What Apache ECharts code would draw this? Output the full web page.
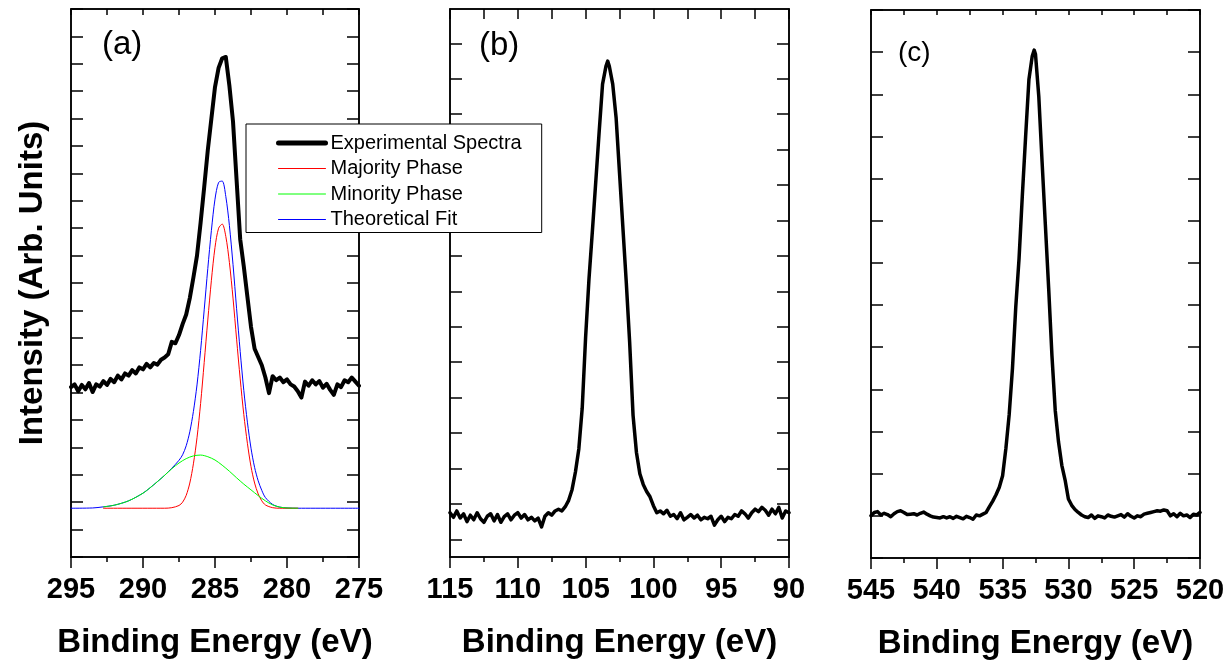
<!DOCTYPE html>
<html><head><meta charset="utf-8">
<script src="https://cdn.jsdelivr.net/npm/echarts@6/dist/echarts.min.js"></script>
<style>html,body{margin:0;padding:0;background:#fff}#c{width:1230px;height:665px}</style>
</head><body><div id="c"></div>
<script>
// ---------- DATA ----------
const legendNames = ['Experimental Spectra','Majority Phase','Minority Phase','Theoretical Fit'];
const panelLabels = ['(a)','(b)','(c)'];
const xTitle = 'Binding Energy (eV)';
const yTitle = 'Intensity (Arb. Units)';

// Panel (a) C 1s
const aExpE = [295,294.75,294.5,294.25,294,293.75,293.5,293.25,293,292.75,
292.5,292.25,292,291.75,291.5,291.25,291,290.75,290.5,290.25,
290,289.75,289.5,289.25,289,288.75,288.5,288.25,288,287.75,
287.5,287.25,287,286.75,286.5,286.25,286,285.75,285.5,285.25,
285,284.75,284.5,284.25,284,283.75,283.5,283.25,283,282.75,
282.5,282.25,282,281.75,281.5,281.25,281,280.75,280.5,280.25,
280,279.75,279.5,279.25,279,278.75,278.5,278.25,278,277.75,
277.5,277.25,277,276.75,276.5,276.25,276,275.75,275.5,275.25,275];
const aExpI = [6.20,6.30,6.05,6.28,6.12,6.35,6.02,6.30,6.22,6.42,
6.28,6.50,6.38,6.62,6.48,6.70,6.62,6.82,6.70,6.92,
6.85,7.05,6.92,7.08,7.02,7.20,7.28,7.40,7.85,7.80,
8.10,8.50,8.85,9.45,10.20,11.00,12.20,13.50,14.85,16.00,
17.15,17.85,18.20,18.25,17.20,15.90,13.75,11.60,10.60,9.50,
8.40,7.60,7.30,7.00,6.55,5.98,6.60,6.45,6.55,6.38,
6.48,6.30,6.22,6.05,5.82,6.40,6.25,6.45,6.30,6.42,
6.18,6.32,6.10,5.92,6.30,6.20,6.45,6.38,6.55,6.40,6.25];

const aMajE = [292.75,288.5,288,287.5,287.25,287,286.75,286.5,286.25,286,285.75,285.5,285.25,285,284.75,284.5,284.25,284,283.75,283.5,283.25,283,282.75,282.5,282.25,282,281.75,281.5,281,280.5,279.25];
const aMajI = [1.78,1.78,1.80,1.88,2.00,2.25,2.70,3.40,4.35,5.60,7.10,8.65,10.10,11.30,12.00,12.15,11.70,10.75,9.45,7.95,6.50,5.20,4.15,3.30,2.70,2.30,2.05,1.90,1.80,1.78,1.78];

const aMinE = [292.75,292,291,290,289.5,289,288.5,288,287.5,287,286.5,286,285.5,285,284.5,284,283.5,283,282.5,282,281.5,281,280.5,280,279.25];
const aMinI = [1.83,1.89,2.05,2.33,2.53,2.75,2.98,3.22,3.43,3.59,3.69,3.72,3.66,3.54,3.35,3.13,2.89,2.66,2.45,2.24,2.05,1.90,1.82,1.79,1.78];

const aFitE = [295,293.5,292.75,292,291,290,289.5,289,288.5,288,287.5,287.25,287,286.75,286.5,286.25,286,285.75,285.5,285.25,285,284.75,284.5,284.25,284,283.75,283.5,283.25,283,282.75,282.5,282.25,282,281.75,281.5,281,280.5,280,279.25,275];
const aFitI = [1.78,1.79,1.83,1.89,2.05,2.33,2.53,2.75,2.98,3.24,3.53,3.73,4.06,4.57,5.31,6.28,7.54,9.02,10.53,11.92,13.06,13.67,13.72,13.16,12.10,10.68,9.06,7.50,6.08,4.92,3.97,3.27,2.78,2.43,2.17,1.92,1.82,1.79,1.78,1.78];

// Panel (b) Si 2p
const bExpE = [115,114.75,114.5,114.25,114,113.75,113.5,113.25,113,112.75,
112.5,112.25,112,111.75,111.5,111.25,111,110.75,110.5,110.25,
110,109.75,109.5,109.25,109,108.75,108.5,108.25,108,107.75,
107.5,107.25,107,106.75,106.5,106.25,106,105.75,105.5,105.25,
105,104.75,104.5,104.25,104,103.75,103.5,
103.37,
103.25,103,102.75,102.5,102.25,102,101.75,101.5,101.25,101,
100.75,100.5,100.25,100,99.75,99.5,99.25,99,98.75,98.5,
98.25,98,97.75,97.5,97.25,97,96.75,96.5,96.25,96,
95.75,95.5,95.25,95,94.75,94.5,94.25,94,93.75,93.5,
93.25,93,92.75,92.5,92.25,92,91.75,91.5,91.25,91,
90.75,90.5,90.25,90];
const bExpI = [1.25,1.12,1.30,1.10,1.22,1.00,1.18,1.05,1.25,1.08,
0.98,1.15,1.22,1.02,1.20,0.98,1.14,1.22,1.05,1.18,
1.25,1.10,1.20,1.05,1.12,1.02,1.10,0.85,1.15,1.25,
1.18,1.30,1.35,1.30,1.42,1.60,1.90,2.40,3.05,4.20,
6.20,7.85,9.20,10.60,12.00,13.35,13.85,
14.00,
13.85,13.35,12.40,10.85,9.30,7.75,6.05,4.00,2.95,2.35,
2.05,1.85,1.70,1.45,1.25,1.30,1.22,1.32,1.15,1.20,
1.08,1.25,1.05,1.12,1.20,1.10,1.18,1.05,1.12,1.08,
1.15,0.90,1.05,1.15,1.00,1.12,1.08,1.20,1.15,1.30,
1.22,1.10,1.25,1.35,1.28,1.40,1.32,1.18,1.35,1.22,
1.40,1.10,1.30,1.25];
const bTickVals = [0.5,1.5,2.5,3.5,4.5,5.5,6.5,7.5,8.5,9.5,10.5,11.5,12.5,13.5,14.5];

// Panel (c) O 1s
const cExpE = [545,544.75,544.5,544.25,544,543.75,543.5,543.25,543,542.75,
542.5,542.25,542,541.75,541.5,541.25,541,540.75,540.5,540.25,
540,539.75,539.5,539.25,539,538.75,538.5,538.25,538,537.75,
537.5,537.25,537,536.75,536.5,536.25,536,535.75,535.5,535.25,
535,534.75,534.5,534.25,534,533.75,533.5,533.25,533,532.75,
532.6,
532.5,532.25,532,531.75,531.5,531.25,531,530.75,530.5,530.25,
530,529.75,529.5,529.25,529,528.75,528.5,528.25,528,527.75,
527.5,527.25,527,526.75,526.5,526.25,526,525.75,525.5,525.25,
525,524.75,524.5,524.25,524,523.75,523.5,523.25,523,522.75,
522.5,522.25,522,521.75,521.5,521.25,521,520.75,520.5,520.25,520];
const cExpI = [1.00,1.08,1.10,1.02,1.06,1.03,0.98,1.05,1.10,1.12,
1.08,1.03,1.04,1.05,1.02,1.06,1.09,1.04,1.00,0.97,
0.96,0.95,0.98,0.95,0.98,0.94,0.99,0.96,0.93,0.99,
0.96,0.92,1.02,1.00,1.04,1.08,1.22,1.35,1.50,1.68,
1.95,2.60,3.40,4.50,5.95,7.10,8.60,10.00,11.35,11.90,
12.05,
11.95,10.95,9.40,7.90,6.40,4.80,3.50,2.75,2.20,1.85,
1.40,1.25,1.15,1.08,1.02,0.98,0.96,1.02,0.94,1.00,
0.98,0.95,1.02,0.99,0.97,1.00,1.03,0.97,1.05,0.99,
0.95,1.00,0.98,1.04,1.06,1.08,1.10,1.12,1.11,1.14,
1.12,1.00,1.05,0.98,1.06,1.00,1.02,0.96,1.04,1.02,1.08];

// ---------- CHART ----------
const FONT = "'Liberation Sans', Arial, Helvetica, sans-serif";
const zip = (xs, ys) => xs.map((x, i) => [x, ys[i]]);
const chart = echarts.init(document.getElementById('c'), null, {renderer: 'canvas'});

const grids = [
  {left: 71, top: 9, width: 288, height: 548},
  {left: 450, top: 9, width: 339, height: 548},
  {left: 871, top: 10, width: 329, height: 548}
];
const xRanges = [[275, 295], [90, 115], [520, 545]];
const topTickLen = [6, 10, 5];
const yCfg = [
  {max: 20, interval: 1},
  {max: 15.47, custom: bTickVals},
  {max: 13, interval: 1}
];

const lineBlack = {color: '#000', width: 1.5};
const xAxes = [], yAxes = [];
grids.forEach((g, i) => {
  xAxes.push({
    type: 'value', gridIndex: i, position: 'bottom', inverse: true,
    min: xRanges[i][0], max: xRanges[i][1], interval: 5,
    axisLine: {show: true, onZero: false, lineStyle: lineBlack},
    axisTick: {show: true, inside: false, length: 11, lineStyle: lineBlack},
    minorTick: {show: true, splitNumber: 2, length: 5, lineStyle: lineBlack},
    splitLine: {show: false}, minorSplitLine: {show: false},
    axisLabel: {show: true, showMinLabel: true, showMaxLabel: true, hideOverlap: false,
      fontFamily: FONT, fontWeight: 'bold', fontSize: 29, color: '#000', margin: 18},
    name: xTitle, nameLocation: 'middle', nameGap: 69,
    nameTextStyle: {fontFamily: FONT, fontWeight: 'bold', fontSize: 33, color: '#000'}
  });
  xAxes.push({
    type: 'value', gridIndex: i, position: 'top', inverse: true,
    min: xRanges[i][0], max: xRanges[i][1], interval: 2.5,
    axisLine: {show: true, onZero: false, lineStyle: lineBlack},
    axisTick: {show: true, inside: true, length: topTickLen[i], lineStyle: lineBlack},
    splitLine: {show: false}, axisLabel: {show: false}
  });
  ['left', 'right'].forEach(pos => {
    const tick = {show: true, inside: true, length: 12, lineStyle: lineBlack};
    const ax = {
      type: 'value', gridIndex: i, position: pos, min: 0, max: yCfg[i].max,
      axisLine: {show: true, onZero: false, lineStyle: lineBlack},
      axisTick: tick, splitLine: {show: false}, axisLabel: {show: false}
    };
    if (yCfg[i].custom) { tick.customValues = yCfg[i].custom; ax.interval = 1; }
    else ax.interval = yCfg[i].interval;
    if (i === 0 && pos === 'left') {
      ax.name = yTitle; ax.nameLocation = 'middle'; ax.nameRotate = 90; ax.nameGap = 22;
      ax.nameTextStyle = {fontFamily: FONT, fontWeight: 'bold', fontSize: 33, color: '#000'};
    }
    yAxes.push(ax);
  });
});

const seriesColors = ['#000000', '#ff0000', '#00ff00', '#0000ff'];

const mk = (name, xi, yi, data, color, width, z) => ({
  type: 'line', name, xAxisIndex: xi, yAxisIndex: yi, data,
  symbol: 'none', showSymbol: false, z,
  lineStyle: {color, width, join: 'round', cap: 'round'},
  itemStyle: {color}, emphasis: {disabled: true}
});

const series = [
  mk(legendNames[0], 0, 0, zip(aExpE, aExpI), seriesColors[0], 4, 5),
  Object.assign(mk(legendNames[1], 0, 0, zip(aMajE, aMajI), seriesColors[1], 1, 3), {smooth: 0.3}),
  Object.assign(mk(legendNames[2], 0, 0, zip(aMinE, aMinI), seriesColors[2], 1, 3), {smooth: 0.3}),
  Object.assign(mk(legendNames[3], 0, 0, zip(aFitE, aFitI), seriesColors[3], 1, 2), {smooth: 0.3}),
  mk('b', 2, 2, zip(bExpE, bExpI), '#000000', 3.5, 5),
  mk('c', 4, 4, zip(cExpE, cExpI), '#000000', 3.5, 5)
];

const labelPos = [{left: 102, top: 28, size: 33}, {left: 479, top: 29, size: 33}, {left: 898, top: 39, size: 28}];
const legendWidths = [5, 1, 1, 1];

chart.setOption({
  animation: false,
  backgroundColor: '#fff',
  grid: grids.map(g => Object.assign({show: true, borderColor: '#000', borderWidth: 1.5, containLabel: false, outerBoundsMode: 'none'}, g)),
  xAxis: xAxes,
  yAxis: yAxes,
  title: panelLabels.map((t, i) => ({
    text: t, left: labelPos[i].left, top: labelPos[i].top, padding: 0,
    textStyle: {fontFamily: FONT, fontWeight: 'normal', fontSize: labelPos[i].size, color: '#000'}
  })),
  legend: {
    data: legendNames.map((n, i) => ({name: n, lineStyle: {width: legendWidths[i], color: seriesColors[i]}})),
    orient: 'vertical', left: 246, top: 124,
    backgroundColor: '#fff', borderColor: '#000', borderWidth: 1,
    padding: [9, 20, 3, 30], itemWidth: 47, itemHeight: 14, itemGap: 5.5,
    selectedMode: false,
    itemStyle: {opacity: 0},
    textStyle: {fontFamily: FONT, fontSize: 20, color: '#000', lineHeight: 20}
  },
  series
});
</script></body></html>
